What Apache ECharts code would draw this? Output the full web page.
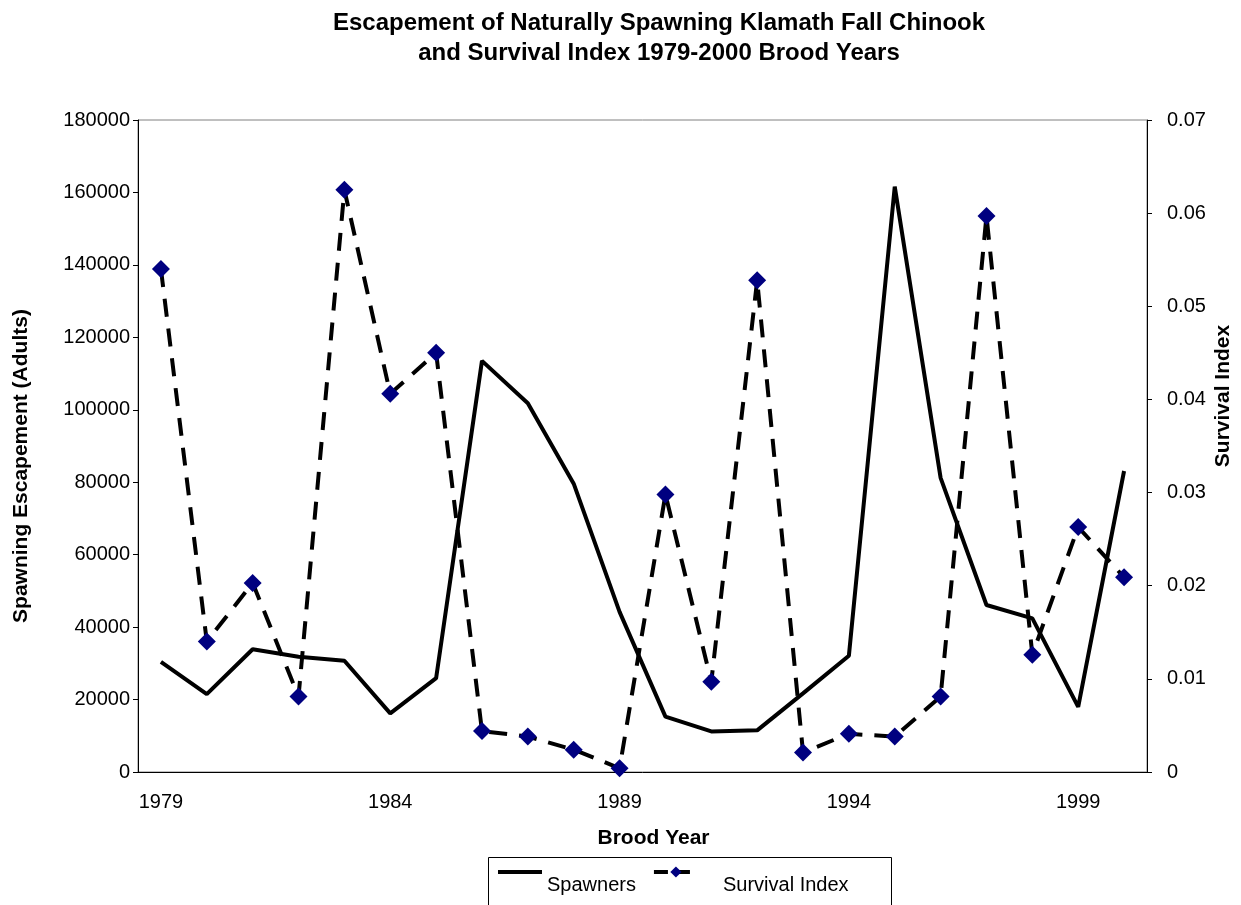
<!DOCTYPE html>
<html>
<head>
<meta charset="utf-8">
<script src="https://cdn.jsdelivr.net/npm/echarts@6/dist/echarts.min.js"></script>
<style>
  body { margin: 0; background: #fff; }
  #chart { width: 1241px; height: 905px; }
</style>
</head>
<body>
<div id="chart"></div>
<script>
// brood years and values
const years = ["1979", "1980", "1981", "1982", "1983", "1984", "1985", "1986", "1987", "1988", "1989",
  "1990", "1991", "1992", "1993", "1994", "1995", "1996", "1997", "1998", "1999", "2000"];
const spawners = [30400, 21500, 33900, 31800, 30700, 16200, 25900, 113500, 101800, 79600, 44200,
  15300, 11200, 11500, 21700, 32100, 161600, 81200, 46100, 42400, 18000, 83100];
const survivalIndex = [0.054, 0.014, 0.0203, 0.0081, 0.0625, 0.0406, 0.045, 0.0044, 0.0038, 0.0024, 0.0004,
  0.0298, 0.0097, 0.0528, 0.0021, 0.0041, 0.0038, 0.0081, 0.0597, 0.0126, 0.0263, 0.0209];

const font = "Liberation Sans, Arial, sans-serif";

let myChart = echarts.init(document.getElementById("chart"));
const option = {
  animation: false,
  title: {
    text: "Escapement of Naturally Spawning Klamath Fall Chinook\nand Survival Index 1979-2000 Brood Years",
    left: 654,
    top: 3,
    textAlign: "center",
    textStyle: {
      fontFamily: font,
      fontSize: 24,
      fontWeight: "bold",
      color: "#000",
      lineHeight: 30
    }
  },
  // legend frame, drawn separately so the samples can sit above the text
  graphic: [
    {
      type: "rect",
      left: 486,
      top: 855,
      shape: { width: 403, height: 70 },
      style: { fill: "none", stroke: "#000", lineWidth: 1 }
    }
  ],
  legend: {
    left: 498,
    top: 846,
    orient: "horizontal",
    padding: 0,
    itemGap: 16,
    itemWidth: 44,
    itemHeight: 14,
    formatter: name => "\n" + name,
    textStyle: { fontFamily: font, fontSize: 20, color: "#000", lineHeight: 26 },
    data: [
      {
        name: "Spawners",
        icon: "path://M0,0H44V4H0Z",
        itemStyle: { color: "#000" }
      },
      {
        name: "Survival Index",
        lineStyle: { width: 4, type: [14, 8] },
        textStyle: { padding: [0, 0, 0, 20] }
      }
    ]
  },
  grid: {
    left: 138,
    right: 94,
    top: 120,
    bottom: 133,
    outerBoundsMode: "none",
    show: true,
    borderColor: "#808080",
    borderWidth: 1
  },
  xAxis: {
    type: "category",
    data: years,
    boundaryGap: true,
    name: "Brood Year",
    nameLocation: "middle",
    nameGap: 56,
    nameTextStyle: { fontFamily: font, fontSize: 21, fontWeight: "bold", color: "#000", padding: [0, 0, 0, 22] },
    axisLine: { lineStyle: { color: "#000", width: 1 } },
    axisTick: { interval: 0, length: 6, lineStyle: { color: "#000" } },
    axisLabel: { interval: 4, fontFamily: font, fontSize: 20, color: "#000", margin: 20 }
  },
  yAxis: [
    {
      type: "value",
      min: 0,
      max: 180000,
      interval: 20000,
      name: "Spawning Escapement (Adults)",
      nameLocation: "middle",
      nameGap: 106,
      nameTextStyle: { fontFamily: font, fontSize: 21, fontWeight: "bold", color: "#000", padding: [0, 40, 0, 0] },
      axisLine: { show: true, lineStyle: { color: "#000", width: 1 } },
      axisTick: { show: true, length: 5, lineStyle: { color: "#000" } },
      axisLabel: {
        fontFamily: font, fontSize: 20, color: "#000", margin: 8,
        formatter: v => String(v)
      },
      splitLine: { show: false }
    },
    {
      type: "value",
      min: 0,
      max: 0.07,
      interval: 0.01,
      position: "right",
      name: "Survival Index",
      nameLocation: "middle",
      nameGap: 66,
      nameMoveOverlap: false,
      nameTextStyle: { fontFamily: font, fontSize: 21, fontWeight: "bold", color: "#000", padding: [0, 0, 0, 100] },
      axisLine: { show: true, lineStyle: { color: "#000", width: 1 } },
      axisTick: { show: true, length: 5, lineStyle: { color: "#000" } },
      axisLabel: {
        fontFamily: font, fontSize: 20, color: "#000", margin: 20,
        formatter: v => String(+v.toFixed(2))
      },
      splitLine: { show: false }
    }
  ],
  series: [
    {
      name: "Spawners",
      type: "line",
      yAxisIndex: 0,
      data: spawners,
      symbol: "none",
      lineStyle: { color: "#000", width: 4 },
      itemStyle: { color: "#000" },
      z: 2
    },
    {
      name: "Survival Index",
      type: "line",
      yAxisIndex: 1,
      data: survivalIndex,
      symbol: "diamond",
      symbolSize: 18,
      lineStyle: { color: "#000", width: 4, type: [18, 12] },
      itemStyle: { color: "#000080" },
      z: 3
    }
  ]
};
myChart.setOption(option);
</script>
</body>
</html>
